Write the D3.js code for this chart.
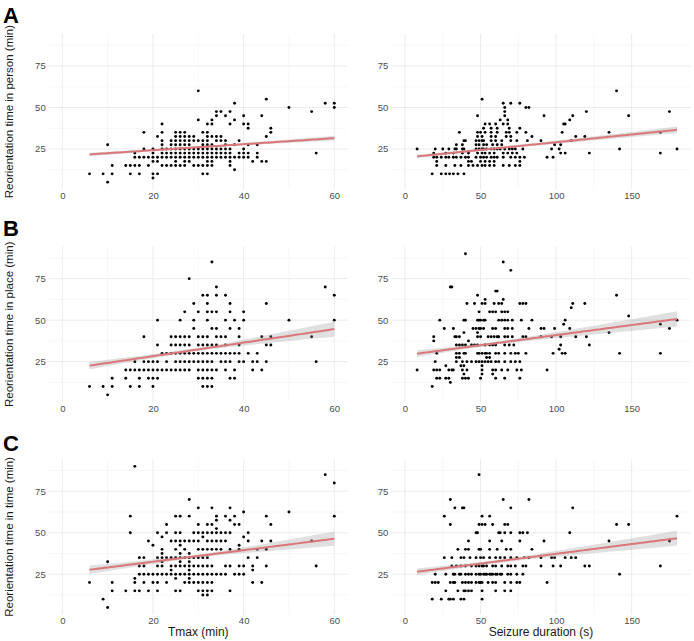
<!DOCTYPE html>
<html>
<head>
<meta charset="utf-8">
<script src="https://cdn.jsdelivr.net/npm/d3@7"></script>
<style>
  body { margin: 0; background: #fff; }
  svg { display: block; font-family: "Liberation Sans", Arial, sans-serif; }
</style>
</head>
<body>
<div id="chart"></div>
<script>
// Tmax (min) -> reorientation times, grouped by x value: [x, [y...]]
var personTmax = [[6,[10]],[9,[10]],[10,[5,27.5]],[11,[10,15]],[14,[15]],[15,[10,15]],[16,[15,20,22.5]],[17,[10,15,20]],[18,[20,25,35]],[19,[15,20]],[20,[7.5,10,17.5,20,22.5,25]],[21,[10,17.5,20,32.5]],[22,[15,20,22.5,25,27.5,30,35,40]],[23,[15,20,22.5,25]],[24,[15,20,22.5,25,27.5,30]],[25,[15,17.5,20,22.5,25,27.5,30,32.5,35]],[26,[15,20,22.5,25,27.5,30,32.5,35]],[27,[15,17.5,20,22.5,25,27.5,30,32.5,35]],[28,[17.5,20,22.5,25,27.5,30,32.5]],[29,[15,20,22.5,25,30,32.5]],[30,[15,20,22.5,25,30,42.5,60]],[31,[10,15,20,22.5,25,27.5,30,35]],[32,[10,15,17.5,20,22.5,25,27.5,30,32.5,35,40]],[33,[15,17.5,20,22.5,25,27.5,32.5,40,42.5]],[34,[20,22.5,25,30,32.5,45,47.5]],[35,[20,22.5,25,30,32.5,47.5]],[36,[20,22.5,25,27.5,30,45]],[37,[15,17.5,20,22.5,25,40,47.5]],[38,[12.5,20,27.5,42.5,52.5]],[39,[20,22.5,30]],[40,[20,22.5,25,40,45]],[41,[20,22.5,27.5,37.5,40]],[42,[17.5]],[43,[20,22.5,27.5]],[44,[17.5,45]],[45,[17.5,32.5,55]],[46,[35,37.5]],[50,[50]],[55,[47.5]],[56,[22.5]],[58,[52.5]],[60,[50,52.5]]];

var placeTmax = [[6,[10]],[9,[10]],[10,[5]],[11,[10,15]],[14,[15,20]],[15,[10,20]],[16,[20,25]],[17,[10,15,20]],[18,[20,25,40]],[19,[15,20,25]],[20,[10,15,20,25]],[21,[15,20,25,35,50]],[22,[20,30]],[23,[20,25,30]],[24,[20,30,35,40]],[25,[20,25,30,35,40]],[26,[20,25,30,35,40,50]],[27,[20,25,30,35,40,55]],[28,[20,25,30,35,40,75]],[29,[25,30,45,50,60]],[30,[15,20,25,30,35,40,55]],[31,[10,15,20,25,30,35,40,65]],[32,[10,15,20,25,30,35,40,50,55,60,65]],[33,[10,15,20,25,30,35,45,55,85]],[34,[20,30,35,40,45,55,65,70]],[35,[25,30,40]],[36,[20,25,30,35,40,50,65]],[37,[15,25,30,45,55,60]],[38,[15,20,30,50]],[39,[25,30,35,40,45]],[40,[25,50,55]],[41,[30]],[42,[20,25]],[43,[25,30]],[44,[20,40]],[45,[25,35,60]],[46,[35,40]],[50,[50]],[55,[40]],[56,[25]],[58,[70]],[60,[50,65]]];

var timeTmax = [[6,[20]],[9,[10]],[10,[5,32.5]],[11,[15,20]],[14,[15]],[15,[50,60]],[16,[15,20,22.5,90]],[17,[15,25,30,35]],[18,[20,25,30,35]],[19,[15,25,45]],[20,[20,25,42.5]],[21,[15,20,25,30,35,50]],[22,[25,30,32.5,35,37.5,40,47.5]],[23,[20,25,35,50,55]],[24,[25,27.5,30,35,45]],[25,[15,22.5,25,30,35,40,45,50,60]],[26,[15,25,30,32.5,35,37.5,42.5,45,50,60]],[27,[20,25,30,35,40,45]],[28,[20,22.5,25,27.5,30,32.5,35,37.5,45,60,70]],[29,[20,25,30,35,45,50]],[30,[15,20,25,30,35,40,45,50,55,65]],[31,[12.5,15,20,25,30,35,40,47.5,50]],[32,[12.5,15,20,25,30,35,40,45,50,55]],[33,[15,20,25,30,40,45,50,55,65]],[34,[25,40,45,50,52.5,57.5,60]],[35,[25,40,45,50]],[36,[25,30,45,50,60]],[37,[15,30,40,50,57.5,65]],[38,[25,55,60]],[39,[25,30,40,42.5,55]],[40,[25,30,47.5,62.5]],[41,[35,45,50]],[42,[20,27.5,30]],[43,[35,40]],[44,[20,45]],[45,[30,40,60]],[46,[45,55]],[50,[62.5]],[55,[45]],[56,[30]],[58,[85]],[60,[60,80]]];

// Seizure duration (s) -> reorientation times, grouped by y value: [y, [x...]]
var personDur = [[10,[18,24,27,29.5,32,35,39]],[15,[21,27,33,37,42,45,48,51,53,56,59,65,69,73,76]],[17.5,[21,42,44,50,53,56,59,76]],[20,[19,21,24,27,29,32,34,37,40,42,47,50,52,54,57,59,61,65,70,73,76,79,94,98]],[22.5,[19,27,32,38,42,48,51,53,56,59,65,68,71,74,103,106,122,169]],[25,[8,20,25,29,33,34,38,39,47,49,51,52,54,57,59,61,63,66,69,71,73,78,97,102,142,180]],[27.5,[34,38,47,49,52,54,58,61,64,99,103]],[30,[39,40,47,49,51,52,57,60,64,70,74,81,90,110]],[32.5,[48,51,57,60,67,70,84,113,119]],[35,[36,48,50,53,57,61,67,69,74,80,104,135,169]],[37.5,[52,57,61,69,76]],[40,[53,56,60,65,68,105,106]],[42.5,[63,68,109]],[45,[48,66,92,111,148]],[47.5,[66,120,175]],[50,[66,80,82]],[52.5,[65,70,76]],[55,[51]],[60,[140]]];

var placeDur = [[10,[18]],[12.5,[30]],[15,[21,23,27,29,38,40,42,50,60,66,76]],[17.5,[39,51,58]],[20,[8,19,21,23,29,31,32,38,41,51,58,60,64,68,74,77,94]],[22.5,[27,37,39,51]],[25,[20,34,38,41,44,47,49,51,53,55,57,60,62,66,70,73,76]],[27.5,[34,36,54,56]],[30,[21,34,36,39,40,48,49,51,53,54,56,60,62,66,70,73,75,80,98,104,106,142,169]],[32.5,[102]],[35,[34,36,38,40,44,46,48,53,56,58,60,66,69,72,103,122]],[37.5,[19,42]],[40,[19,33,34,36,48,50,55,57,59,61,62,66,68,71,78,80,90,97,103,113,120]],[42.5,[39,48,135]],[45,[26,32,45,47,49,50,52,58,60,66,68,71,82,90,92,99,109,175]],[47.5,[105,169]],[50,[23,39,40,48,49,50,52,53,62,64,66,68,71,77,84,106,180]],[52.5,[148]],[55,[49,56,58,60,64,66,68]],[57.5,[110]],[60,[41,46,51,53,59,62,64,76,78,80,111,119]],[62.5,[53,65]],[65,[48,140]],[67.5,[60,61]],[70,[30,31]],[80,[70]],[85,[65]],[90,[40]]];

var timeDur = [[10,[18,24,29,30,32,37,39,51]],[15,[27,35,39,40,42,44,51,60,66,70]],[20,[18,20,22,30,32,33,38,40,42,44,47,49,50,51,55,58,60,66,70,74,76,94]],[25,[20,27,32,33,36,37,40,42,44,47,49,50,52,53,54,56,57,58,60,61,63,64,68,70,74,78,142]],[30,[31,34,37,40,44,47,49,51,52,54,58,60,64,68,70,73,78,80,90,98,103,119,122,169]],[35,[26,31,37,39,43,47,50,52,56,60,63,66,70,74,79,82,90,97,99,106,110,113]],[40,[35,40,42,49,50,56,61,67,70,84]],[45,[42,56,64,76,92,135,175]],[50,[47,48,62,63,66,70,76,78,81,109]],[55,[30,49,51,53,58,66,68,140,148]],[60,[26,51,56,180]],[65,[33,38,39,70,111]],[70,[30,65,82]],[85,[49]]];

// fitted lines, panel order A-left, A-right, B-left, B-right, C-left, C-right
var fitEnds = [[6, 21.7, 60, 31.5], [8, 20.5, 180, 36.5], [6, 22.6, 60, 44.6], [8, 29.8, 180, 50.7], [6, 27.7, 60, 46.4], [8, 26.5, 180, 46.7]];
// confidence band half-widths: [x at narrowest, at start, at narrowest, at end]
var bandHalf = [[30, 1.0, 0.6, 1.4], [60, 1.0, 0.7, 2.0], [30, 2.2, 1.0, 4.5], [60, 2.0, 1.0, 4.6], [30, 2.5, 1.0, 4.3], [60, 2.0, 1.0, 4.5]];

var tmaxTicks = [0, 20, 40, 60];
var durTicks = [0, 50, 100, 150];
var yTicks = [25, 50, 75];
var rowLabels = ["A", "B", "C"];
var yTitles = ["Reorientation time in person (min)", "Reorientation time in place (min)", "Reorientation time in time (min)"];
var xTitles = ["Tmax (min)", "Seizure duration (s)"];

var svgWidth = 694, svgHeight = 641;

var svg = d3.select("#chart").append("svg")
  .attr("width", svgWidth)
  .attr("height", svgHeight);

// panel geometry
var rowTops = [34, 246.7, 459.3];
var panelH = 155.2;
var xLeft = d3.scaleLinear().domain([-3, 63]).range([48.7, 347.9]);
var xRight = d3.scaleLinear().domain([-9, 189]).range([391.4, 690.6]);

function byX(arr) { return arr.flatMap(function(d) { return d[1].map(function(y) { return {x: d[0], y: y}; }); }); }
function byY(arr) { return arr.flatMap(function(d) { return d[1].map(function(x) { return {x: x, y: d[0]}; }); }); }

var rows = [
  {left: byX(personTmax), right: byY(personDur)},
  {left: byX(placeTmax), right: byY(placeDur)},
  {left: byX(timeTmax), right: byY(timeDur)}
];

// sample the fitted line and its band
function fitCurve(e, b) {
  var kl = (b[1] * b[1] - b[2] * b[2]) / Math.pow(e[0] - b[0], 2);
  var kr = (b[3] * b[3] - b[2] * b[2]) / Math.pow(e[2] - b[0], 2);
  return d3.range(0, 81).map(function(i) {
    var t = i / 80;
    var x = e[0] + (e[2] - e[0]) * t;
    var y = e[1] + (e[3] - e[1]) * t;
    var k = x < b[0] ? kl : kr;
    var h = Math.sqrt(b[2] * b[2] + k * (x - b[0]) * (x - b[0]));
    return {x: x, y: y, lo: y - h, hi: y + h};
  });
}

function drawPanel(g, xScale, yScale, pts, xTicks, idx) {
  var x0 = xScale.range()[0], x1 = xScale.range()[1];
  var y0 = yScale.range()[0], y1 = yScale.range()[1];

  // minor grid
  var xMinor = d3.pairs(xTicks).map(function(p) { return (p[0] + p[1]) / 2; });
  var yMinor = [12.5, 37.5, 62.5, 87.5];
  g.selectAll(".xminor").data(xMinor).enter().append("line")
    .attr("x1", xScale).attr("x2", xScale).attr("y1", y0).attr("y2", y1)
    .attr("stroke", "#f2f2f2").attr("stroke-width", 0.6);
  g.selectAll(".yminor").data(yMinor).enter().append("line")
    .attr("y1", yScale).attr("y2", yScale).attr("x1", x0).attr("x2", x1)
    .attr("stroke", "#f2f2f2").attr("stroke-width", 0.6);
  // major grid
  g.selectAll(".xmajor").data(xTicks).enter().append("line")
    .attr("x1", xScale).attr("x2", xScale).attr("y1", y0).attr("y2", y1)
    .attr("stroke", "#ebebeb").attr("stroke-width", 1);
  g.selectAll(".ymajor").data(yTicks).enter().append("line")
    .attr("y1", yScale).attr("y2", yScale).attr("x1", x0).attr("x2", x1)
    .attr("stroke", "#ebebeb").attr("stroke-width", 1);

  // axes (labels only)
  var xa = g.append("g").attr("transform", "translate(0," + y0 + ")")
    .call(d3.axisBottom(xScale).tickValues(xTicks).tickSize(0).tickPadding(3));
  var ya = g.append("g").attr("transform", "translate(" + x0 + ",0)")
    .call(d3.axisLeft(yScale).tickValues(yTicks).tickSize(0).tickPadding(3));
  [xa, ya].forEach(function(ax) {
    ax.select(".domain").remove();
    ax.selectAll("text").attr("fill", "#4d4d4d").style("font-size", "9.5px")
      .style("font-family", "'Liberation Sans', Arial, sans-serif");
  });

  // points
  g.selectAll(".pt").data(pts).enter().append("circle")
    .attr("cx", function(d) { return xScale(d.x); })
    .attr("cy", function(d) { return yScale(d.y); })
    .attr("r", 1.45).attr("fill", "#000");

  // regression line + band
  var f = fitCurve(fitEnds[idx], bandHalf[idx]);
  g.append("path").datum(f)
    .attr("d", d3.area().x(function(d) { return xScale(d.x); })
      .y0(function(d) { return yScale(d.lo); }).y1(function(d) { return yScale(d.hi); }))
    .attr("fill", "#999").attr("fill-opacity", 0.3);
  g.append("path").datum(f)
    .attr("d", d3.line().x(function(d) { return xScale(d.x); }).y(function(d) { return yScale(d.y); }))
    .attr("fill", "none").attr("stroke", "#d9777a").attr("stroke-width", 2);
}

rows.forEach(function(r, i) {
  var y = d3.scaleLinear().domain([0.75, 94.25]).range([rowTops[i] + panelH, rowTops[i]]);
  drawPanel(svg.append("g"), xLeft, y, r.left, tmaxTicks, i * 2);
  drawPanel(svg.append("g"), xRight, y, r.right, durTicks, i * 2 + 1);

  svg.append("text")
    .attr("transform", "translate(13," + (rowTops[i] + panelH / 2) + ") rotate(-90)")
    .attr("text-anchor", "middle")
    .style("font-size", "11.5px").attr("fill", "#1a1a1a")
    .text(yTitles[i]);

  svg.append("text")
    .attr("x", 3).attr("y", [23, 236, 451][i])
    .style("font-size", "22px").style("font-weight", "bold")
    .text(rowLabels[i]);
});

svg.append("text").attr("x", (xLeft.range()[0] + xLeft.range()[1]) / 2).attr("y", 636)
  .attr("text-anchor", "middle").style("font-size", "12px").attr("fill", "#1a1a1a").text(xTitles[0]);
svg.append("text").attr("x", (xRight.range()[0] + xRight.range()[1]) / 2).attr("y", 636)
  .attr("text-anchor", "middle").style("font-size", "12px").attr("fill", "#1a1a1a").text(xTitles[1]);
</script>
</body>
</html>
